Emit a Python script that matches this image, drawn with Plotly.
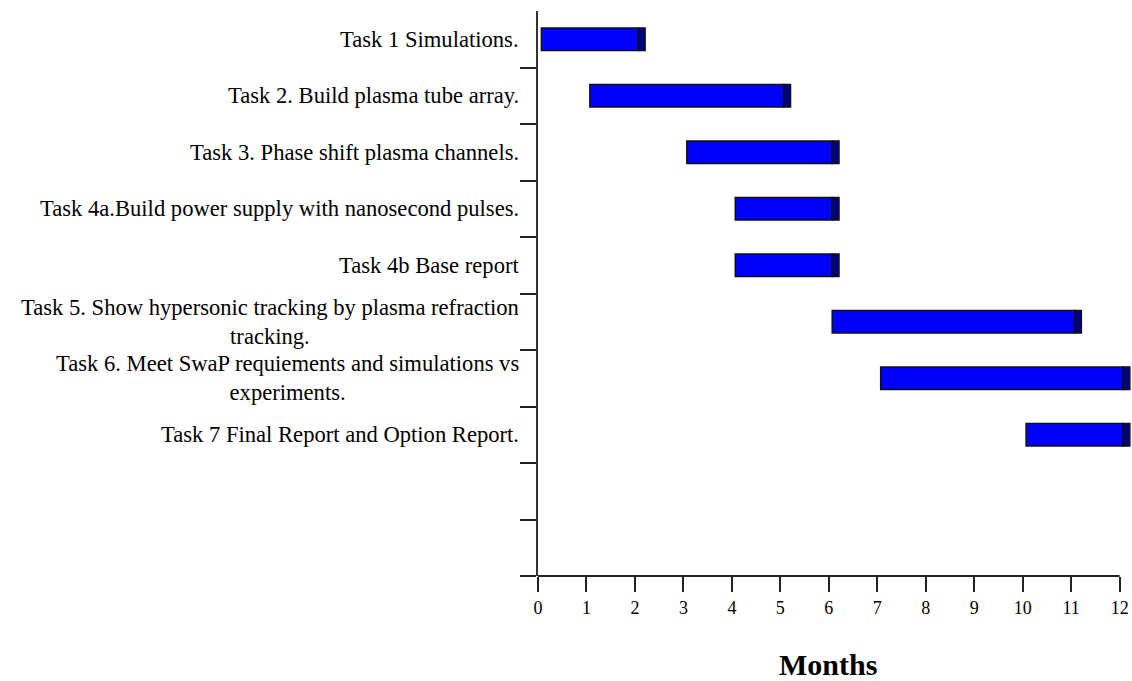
import plotly.graph_objects as go

# ---- data ----
task_labels = [
    "Task 1 Simulations.",
    "Task 2. Build plasma tube array.",
    "Task 3. Phase shift plasma channels.",
    "Task 4a.Build power supply with nanosecond pulses.",
    "Task 4b Base report",
    "Task 5. Show hypersonic tracking by plasma refraction<br>tracking.",
    "Task 6. Meet SwaP requiements and simulations vs<br>experiments.",
    "Task 7 Final Report and Option Report.",
]
start_month = [0, 1, 3, 4, 4, 6, 7, 10]
end_month = [2, 5, 6, 6, 6, 11, 12, 12]
n_rows = 10  # 8 tasks + 2 empty slots
x_ticks = list(range(0, 13))
x_title = "Months"

# ---- style ----
FONT = "Liberation Serif, Times New Roman, serif"
SHIFT = 0.07      # 3D face offset
CAP = 0.14        # dark depth cap width
X_MAX = 12.255
BAR_W = 0.4

rows = list(range(len(task_labels)))

fig = go.Figure()
fig.add_trace(go.Bar(
    orientation="h",
    y=rows,
    base=[s + SHIFT for s in start_month],
    x=[e - s for s, e in zip(start_month, end_month)],
    width=BAR_W,
    marker=dict(color="#0000FF", line=dict(color="#111", width=1.5)),
    hoverinfo="skip",
))
fig.add_trace(go.Bar(
    orientation="h",
    y=rows,
    base=[e + SHIFT for e in end_month],
    x=[CAP] * len(end_month),
    width=BAR_W,
    marker=dict(color="#000080", line=dict(color="#111", width=1.5)),
    hoverinfo="skip",
))

annotations = []
for i, lab in enumerate(task_labels):
    annotations.append(dict(
        text=lab, xref="paper", x=0, xshift=-17, xanchor="right",
        yref="y", y=i, yanchor="middle", align="center", showarrow=False,
        font=dict(family=FONT, size=22.6, color="#000"),
    ))
annotations.append(dict(
    text="<b>%s</b>" % x_title, xref="paper", x=0.488, xanchor="center",
    yref="paper", y=-0.156, yanchor="middle", showarrow=False,
    font=dict(family=FONT, size=30, color="#000"),
))

fig.update_layout(
    width=1132, height=681,
    margin=dict(l=538, r=0, t=11, b=105),
    paper_bgcolor="white", plot_bgcolor="white",
    barmode="overlay", showlegend=False,
    annotations=annotations,
    shapes=[dict(type="line", xref="paper", yref="paper",
                 x0=0, x1=12 / X_MAX, y0=0, y1=0,
                 line=dict(color="#222", width=2))],
    xaxis=dict(
        range=[0, X_MAX], tickvals=x_ticks, ticktext=[str(t) for t in x_ticks],
        ticks="outside", ticklen=15, tickwidth=2, tickcolor="#222",
        showline=False, showgrid=False, zeroline=False,
        tickfont=dict(family=FONT, size=18, color="#000"),
    ),
    yaxis=dict(
        range=[n_rows - 0.5, -0.5],
        tickvals=[i + 0.5 for i in range(n_rows)],
        showticklabels=False, ticks="outside", ticklen=16, tickwidth=2,
        tickcolor="#222", showline=True, linecolor="#333", linewidth=2,
        showgrid=False, zeroline=False,
    ),
)

fig.write_html(
    "out.html",
    config={"displayModeBar": False},
    post_script="document.body.style.margin='0px';document.body.style.overflow='hidden';",
)
